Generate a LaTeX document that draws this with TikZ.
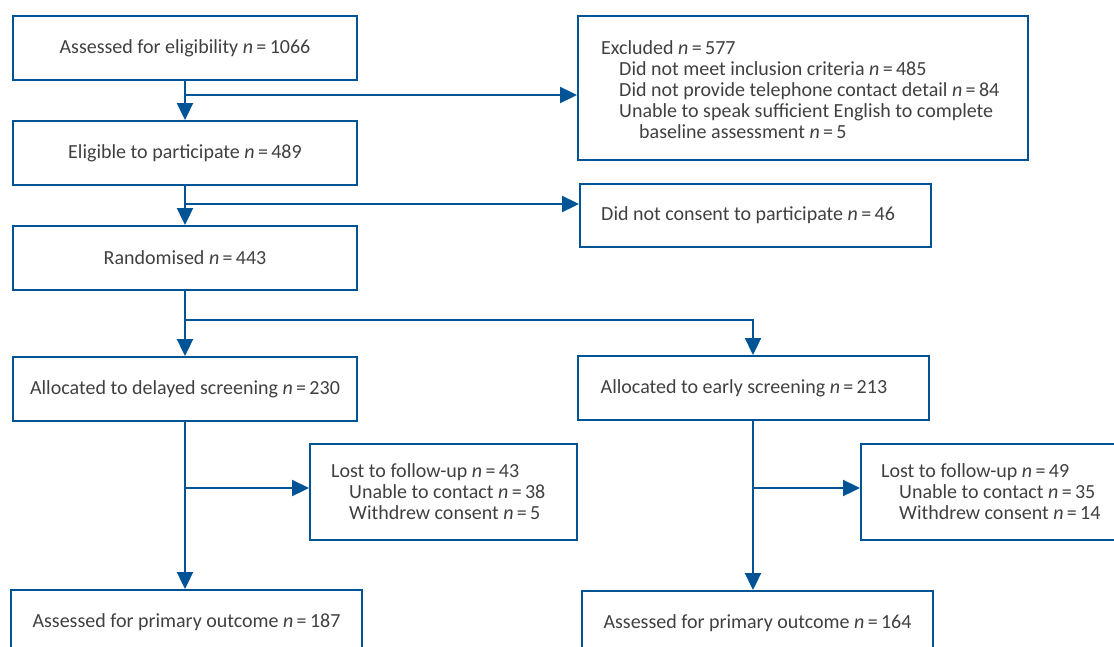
\documentclass[tikz,border=0pt]{standalone}
\usepackage{fontspec}
\setmainfont{Carlito}
\usetikzlibrary{arrows.meta}
\definecolor{lineblue}{RGB}{0,84,150}
\definecolor{txtgray}{RGB}{64,64,64}
\newcommand{\nn}[1]{\textit{n}\,=\,#1}
\begin{document}
\begin{tikzpicture}[x=1pt,y=-1pt,
  box/.style={draw=lineblue, line width=2pt, text=txtgray, inner sep=0pt,
    font=\fontsize{20}{21}\selectfont},
  txtl/.style={anchor=west, align=left, inner sep=0pt, text=txtgray,
    font=\fontsize{20}{21}\selectfont},
  conn/.style={draw=lineblue, line width=2.3pt, -{Triangle[length=17pt,width=16pt]}}]
\useasboundingbox (0,0) rectangle (1114,646);
\clip (0,0) rectangle (1114,646);

% left column
\node[box, minimum width=344pt, minimum height=64pt] (b1) at (185,48) {Assessed for eligibility \nn{1066}};
\node[box, minimum width=344pt, minimum height=64pt] (b2) at (185,153) {Eligible to participate \nn{489}};
\node[box, minimum width=344pt, minimum height=64pt] (b3) at (185,258) {Randomised \nn{443}};

% exclusion boxes
\node[box, minimum width=450pt, minimum height=144pt] (excl) at (803,88) {};
\node[txtl] (exclT) at ([xshift=24pt,yshift=-2pt]excl.west)
  {Excluded \nn{577}\\
   \hspace*{18pt}Did not meet inclusion criteria \nn{485}\\
   \hspace*{18pt}Did not provide telephone contact detail \nn{84}\\
   \hspace*{18pt}Unable to speak sufficient English to complete\\
   \hspace*{38pt}baseline assessment \nn{5}};

\node[box, minimum width=351pt, minimum height=63pt] (cons) at (755.5,215.5) {};
\node[txtl] (consT) at ([xshift=22pt]cons.west) {Did not consent to participate \nn{46}};

% allocation
\node[box, minimum width=344pt, minimum height=64pt] (del) at (185,389) {Allocated to delayed screening \nn{230}};
\node[box, minimum width=351pt, minimum height=64pt] (early) at (753,388) {};
\node[txtl] (earlyT) at ([xshift=24pt]early.west) {Allocated to early screening \nn{213}};

% lost to follow-up
\node[box, minimum width=267pt, minimum height=96pt] (lostL) at (443.5,492) {};
\node[txtl] (lostLT) at ([xshift=22pt]lostL.west)
  {Lost to follow-up \nn{43}\\
   \hspace*{18pt}Unable to contact \nn{38}\\
   \hspace*{18pt}Withdrew consent \nn{5}};
\node[box, minimum width=280pt, minimum height=96pt] (lostR) at (1001,492) {};
\node[txtl] (lostRT) at ([xshift=21pt]lostR.west)
  {Lost to follow-up \nn{49}\\
   \hspace*{18pt}Unable to contact \nn{35}\\
   \hspace*{18pt}Withdrew consent \nn{14}};

% outcome
\node[box, minimum width=351pt, minimum height=64pt] (assL) at (186.5,622) {Assessed for primary outcome \nn{187}};
\node[box, minimum width=351pt, minimum height=64pt] (assR) at (757.5,623) {Assessed for primary outcome \nn{164}};

% junctions
\coordinate (j1) at (185,95);
\coordinate (j2) at (185,204);
\coordinate (j3) at (185,320);
\coordinate (j4) at (185,488);
\coordinate (j5) at (753,488);

% connectors
\draw[conn] (b1.south) -- (b2.north);
\draw[conn] (j1) -- (j1 -| excl.west);
\draw[conn] (b2.south) -- (b3.north);
\draw[conn] (j2) -- (j2 -| cons.west);
\draw[conn] (b3.south) -- (del.north);
\draw[conn] (j3) -| (early.north);
\draw[conn] (del.south) -- (del.south |- assL.north);
\draw[conn] (j4) -- (j4 -| lostL.west);
\draw[conn] (early.south) -- (early.south |- assR.north);
\draw[conn] (j5) -- (j5 -| lostR.west);
\end{tikzpicture}
\end{document}
